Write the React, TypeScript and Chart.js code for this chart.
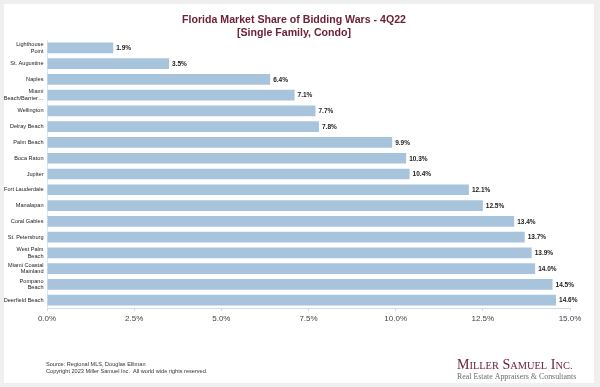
import React, { useEffect, useRef } from "react";
import { Chart, registerables } from "chart.js";

Chart.register(...registerables);

const categories: (string | string[])[] = [
  ["Lighthouse", "Point"],
  "St. Augustine",
  "Naples",
  ["Miami", "Beach/Barrier…"],
  "Wellington",
  "Delray Beach",
  "Palm Beach",
  "Boca Raton",
  "Jupiter",
  "Fort Lauderdale",
  "Manalapan",
  "Coral Gables",
  "St. Petersburg",
  ["West Palm", "Beach"],
  ["Miami Coastal", "Mainland"],
  ["Pompano", "Beach"],
  "Deerfield Beach",
];

const shares: number[] = [1.9, 3.5, 6.4, 7.1, 7.7, 7.8, 9.9, 10.3, 10.4, 12.1, 12.5, 13.4, 13.7, 13.9, 14.0, 14.5, 14.6];

const titleLines: string[] = ["Florida Market Share of Bidding Wars - 4Q22", "[Single Family, Condo]"];
const footerLines: string[] = [
  "Source: Regional MLS, Douglas Elliman",
  "Copyright 2023 Miller Samuel Inc.  All world wide rights reserved.",
];
const logoWords: string[] = ["Miller", "Samuel", "Inc."];
const logoTagline = "Real Estate Appraisers & Consultants";

const SANS = '"Liberation Sans", Arial, sans-serif';
const SERIF = '"Liberation Serif", "DejaVu Serif", serif';
const MAROON = "#6e2236";

const decorPlugin = {
  id: "decor",
  beforeDraw(chart: any) {
    const ctx = chart.ctx;
    ctx.save();
    ctx.fillStyle = "#ffffff";
    ctx.fillRect(0, 0, chart.width, chart.height);
    ctx.restore();
  },
  afterDatasetsDraw(chart: any) {
    const ctx = chart.ctx;
    const meta = chart.getDatasetMeta(0);
    ctx.save();
    ctx.font = `bold 6.5px ${SANS}`;
    ctx.fillStyle = "#1a1a1a";
    ctx.textAlign = "left";
    ctx.textBaseline = "middle";
    meta.data.forEach((bar: any, i: number) => {
      ctx.fillText(shares[i].toFixed(1) + "%", bar.x + 3, bar.y + 0.5);
    });
    ctx.restore();
  },
  afterDraw(chart: any) {
    const ctx = chart.ctx;
    const W = chart.width;
    const H = chart.height;
    ctx.save();
    // title
    ctx.fillStyle = MAROON;
    ctx.font = `bold 10.6px ${SANS}`;
    ctx.textAlign = "center";
    ctx.textBaseline = "middle";
    ctx.fillText(titleLines[0], 294, 20);
    ctx.fillText(titleLines[1], 294, 33);
    // footer
    ctx.fillStyle = "#333333";
    ctx.font = `5.6px ${SANS}`;
    ctx.textAlign = "left";
    ctx.fillText(footerLines[0], 46, 364);
    ctx.fillText(footerLines[1], 46, 371);
    // logo (small caps)
    ctx.fillStyle = MAROON;
    ctx.textBaseline = "alphabetic";
    let x = 457;
    const base = 369;
    logoWords.forEach((w, wi) => {
      ctx.font = `14px ${SERIF}`;
      ctx.fillText(w[0], x, base);
      x += ctx.measureText(w[0]).width;
      ctx.font = `10.4px ${SERIF}`;
      const rest = w.slice(1).toUpperCase();
      ctx.fillText(rest, x, base);
      x += ctx.measureText(rest).width;
      if (wi < logoWords.length - 1) x += 3.6;
    });
    ctx.fillStyle = "#6a6a6a";
    ctx.font = `7.9px ${SERIF}`;
    ctx.fillText(logoTagline, 457, 378.5);
    // frame
    ctx.fillStyle = "#efefef";
    ctx.fillRect(0, 0, W, 4);
    ctx.fillRect(0, 0, 4, H);
    ctx.fillRect(594, 0, W - 594, H);
    ctx.fillRect(0, 383, W, H - 383);
    ctx.restore();
  },
};

export default function App() {
  const ref = useRef<HTMLCanvasElement | null>(null);
  useEffect(() => {
    if (!ref.current) return;
    const chart = new Chart(ref.current, {
      type: "bar",
      data: {
        labels: categories,
        datasets: [
          {
            data: shares,
            backgroundColor: "#a8c4dc",
            borderWidth: 0,
            categoryPercentage: 1,
            barPercentage: 0.68,
          },
        ],
      },
      options: {
        indexAxis: "y",
        animation: false,
        responsive: false,
        maintainAspectRatio: false,
        devicePixelRatio: 1,
        layout: { padding: { top: 40, left: 0, right: 30, bottom: 59 } },
        plugins: {
          legend: { display: false },
          title: { display: false },
          tooltip: { enabled: false },
        },
        scales: {
          x: {
            min: 0,
            max: 15,
            afterFit: (s: any) => {
              s.height = 20;
            },
            ticks: {
              stepSize: 2.5,
              padding: 3,
              color: "#444444",
              font: { family: SANS, size: 8 },
              callback: (v: any) => Number(v).toFixed(1) + "%",
            },
            grid: {
              drawOnChartArea: false,
              drawTicks: true,
              tickLength: 3,
              color: "#cddceb",
            },
            border: { display: true, color: "#cddceb" },
          },
          y: {
            afterFit: (s: any) => {
              s.width = 47;
            },
            ticks: {
              padding: 3.5,
              color: "#222222",
              font: { family: SANS, size: 5.6, lineHeight: 1.2 },
              autoSkip: false,
            },
            grid: { display: false, drawTicks: false },
            border: { display: true, color: "#dde7f0" },
          },
        },
      },
      plugins: [decorPlugin],
    });
    return () => chart.destroy();
  }, []);
  return (
    <div style={{ position: "fixed", left: 0, top: 0, width: 600, height: 387, background: "#efefef" }}>
      <canvas ref={ref} width={600} height={387} style={{ display: "block", width: 600, height: 387 }} />
    </div>
  );
}
